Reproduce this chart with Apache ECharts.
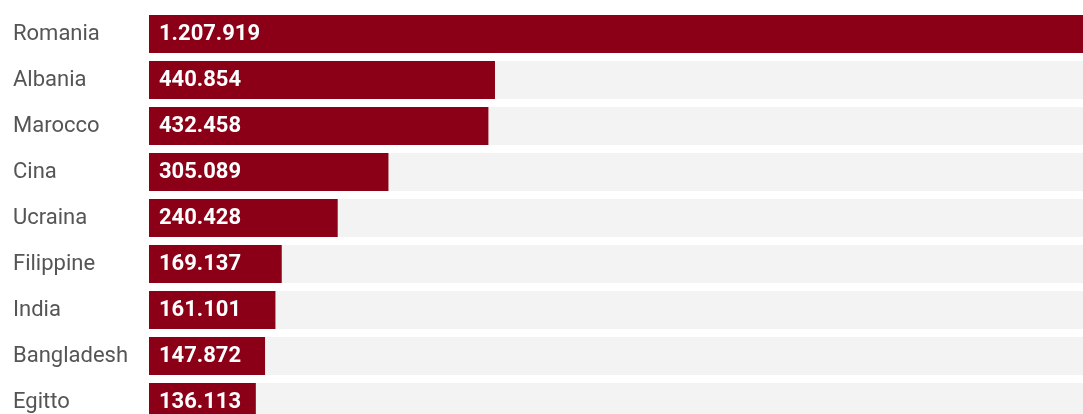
<!DOCTYPE html>
<html>
<head>
<meta charset="utf-8">
<script src="https://cdn.jsdelivr.net/npm/echarts@6/dist/echarts.min.js"></script>
<style>
  html, body { margin: 0; padding: 0; background: #fff; }
  #main { width: 1083px; height: 414px; }
</style>
</head>
<body>
<div id="main"></div>
<script>
//paesi e residenti stranieri
var paesi = ['Romania', 'Albania', 'Marocco', 'Cina', 'Ucraina', 'Filippine', 'India', 'Bangladesh', 'Egitto'];
var residenti = [1207919, 440854, 432458, 305089, 240428, 169137, 161101, 147872, 136113];

//separatore migliaia con il punto
function formatNum(n){
  return String(n).replace(/\B(?=(\d{3})+(?!\d))/g, '.');
}

var chart = echarts.init(document.getElementById('main'));

chart.setOption({
  animation: false
  ,grid: {
    left: 149
    ,top: 11
    ,width: 948
    ,height: 414
    ,outerBoundsMode: 'none' //il grafico esce dal riquadro in basso e a destra
  }
  ,xAxis: {
    type: 'value'
    ,min: 0
    ,max: residenti[0]
    ,show: false
  }
  ,yAxis: {
    type: 'category'
    ,data: paesi
    ,inverse: true
    ,axisLine: {show: false}
    ,axisTick: {show: false}
    ,splitLine: {show: false}
    ,axisLabel: {
      align: 'left'
      ,margin: 136
      ,color: '#555555'
      ,fontFamily: 'Roboto'
      ,fontSize: 22
    }
  }
  ,series: [{
    type: 'bar'
    ,data: residenti
    ,barWidth: 38
    ,showBackground: true
    ,backgroundStyle: {color: '#f3f3f3'}
    ,itemStyle: {color: '#8b0016'}
    ,label: {
      show: true
      ,position: 'insideLeft'
      ,distance: 10
      ,color: '#ffffff'
      ,fontFamily: 'Roboto'
      ,fontWeight: 'bold'
      ,fontSize: 22
      ,formatter: function(p){ return formatNum(p.value); }
    }
  }]
});
</script>
</body>
</html>
